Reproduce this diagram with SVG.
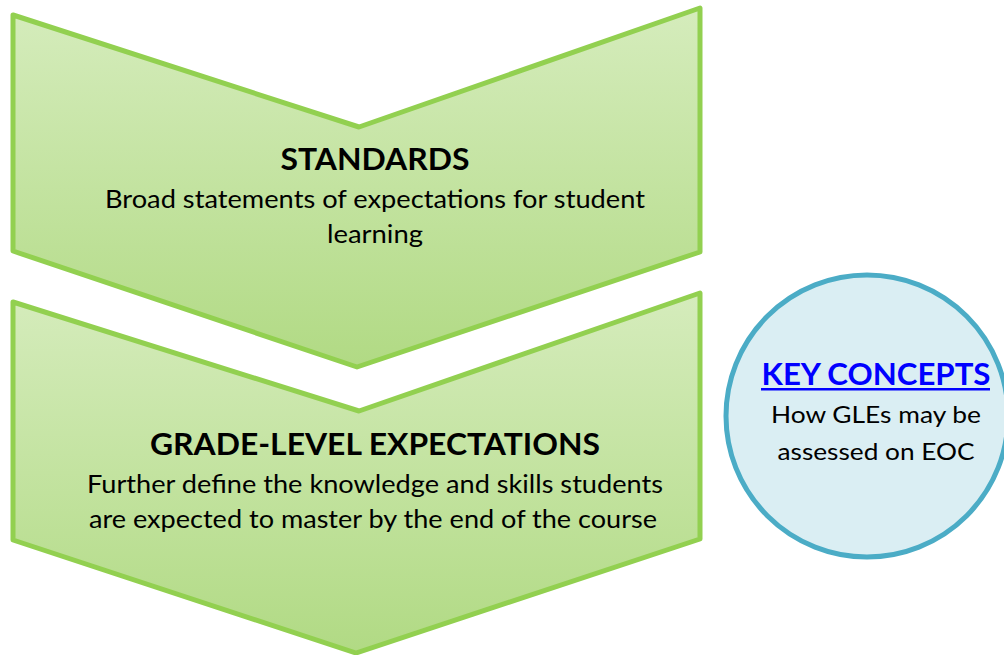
<svg xmlns="http://www.w3.org/2000/svg" width="1004" height="655" viewBox="0 0 1004 655">
  <defs>
    <linearGradient id="gGreen" x1="0" y1="0" x2="0" y2="1">
      <stop offset="0" stop-color="#d5ecbc"/>
      <stop offset="1" stop-color="#b1da84"/>
    </linearGradient>
    <style>
      .chev { fill: url(#gGreen); stroke: #92d050; stroke-width: 5; stroke-linejoin: round; }
      .circ { fill: #daeef3; stroke: #4bacc6; stroke-width: 5; }
      .t { font-family: Lato, "Open Sans", "Liberation Sans", sans-serif; fill: #000; text-anchor: middle; }
      .h { font-weight: bold; font-size: 30px; }
      .b { font-size: 25px; }
      .cb { font-size: 23px; }
      .link { font-family: Lato, "Open Sans", "Liberation Sans", sans-serif; font-weight: bold; font-size: 30px; fill: #0000ff; text-anchor: middle; }
    </style>
  </defs>
  <rect width="1004" height="655" fill="#ffffff"/>

  <g id="standards">
    <polygon class="chev" points="13,15 359,127 700,8 700,252 357,367 13,251"/>
    <text class="t h" x="375" y="170" textLength="189" lengthAdjust="spacingAndGlyphs">STANDARDS</text>
    <text class="t b" x="375" y="208" textLength="540" lengthAdjust="spacingAndGlyphs">Broad statements of expectations for student</text>
    <text class="t b" x="375" y="243" textLength="96" lengthAdjust="spacingAndGlyphs">learning</text>
  </g>

  <g id="gle">
    <polygon class="chev" points="13,302 359,411 700,293 700,539 356,653 13,540"/>
    <text class="t h" x="375" y="455" textLength="450" lengthAdjust="spacingAndGlyphs">GRADE-LEVEL EXPECTATIONS</text>
    <text class="t b" x="375" y="493" textLength="576" lengthAdjust="spacingAndGlyphs">Further define the knowledge and skills students</text>
    <text class="t b" x="373" y="528" textLength="568" lengthAdjust="spacingAndGlyphs">are expected to master by the end of the course</text>
  </g>

  <g id="key-concepts">
    <circle class="circ" cx="867" cy="416" r="141"/>
    <text class="link" x="876" y="385" textLength="229" lengthAdjust="spacingAndGlyphs">KEY CONCEPTS</text>
    <rect x="761" y="388" width="229" height="2.5" fill="#0000ff"/>
    <text class="t cb" x="876" y="423" textLength="210" lengthAdjust="spacingAndGlyphs">How GLEs may be</text>
    <text class="t cb" x="876" y="460" textLength="197" lengthAdjust="spacingAndGlyphs">assessed on EOC</text>
  </g>

  <g id="connectors"></g>
</svg>
